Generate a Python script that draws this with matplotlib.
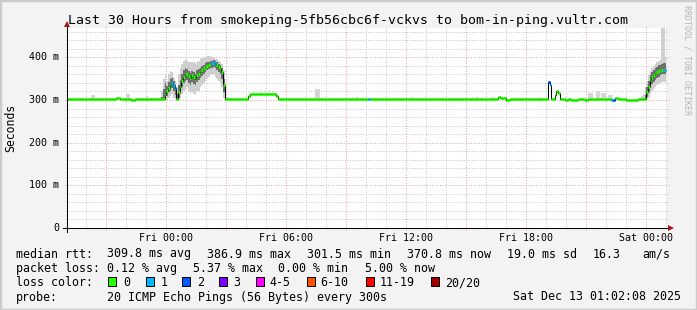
import numpy as np
import matplotlib
matplotlib.use("Agg")
import matplotlib.pyplot as plt
from matplotlib.collections import LineCollection
from matplotlib.patches import Rectangle

# ---------------- data ----------------
title = "Last 30 Hours from smokeping-5fb56cbc6f-vckvs to bom-in-ping.vultr.com"
x_tick_hours = [0, 6, 12, 18, 24]           # hours relative to Fri 00:00
x_tick_labels = ["Fri 00:00", "Fri 06:00", "Fri 12:00", "Fri 18:00", "Sat 00:00"]
y_tick_values = [0, 100, 200, 300, 400]
y_tick_labels = ["0", "100 m", "200 m", "300 m", "400 m"]
first_step_hour = -5.0                       # Thu 19:00, 5-minute steps
view_start_hour = -4.964                     # Thu 19:02:08
view_end_hour = 25.036                       # Sat 01:02:08
y_top = 468.7

# median rtt (ms), one value per 5 minute step, 12 per row (= 1 hour)
median_ms = [
    303, 303, 303, 303, 303, 303, 303, 303, 303, 303, 303, 303,
    303, 303, 303, 303, 303, 303, 303, 303, 303, 303, 303, 303,
    303, 303, 303, 303, 303, 303, 305, 305, 303, 303, 303, 303,
    303, 303, 303, 300, 300, 303, 303, 303, 303, 303, 303, 303,
    303, 303, 303, 303, 303, 303, 303, 303, 303, 303, 303, 312,
    321, 328, 334, 340, 335, 327, 303, 318, 330, 345, 355, 361,
    362, 356, 352, 358, 354, 350, 358, 362, 366, 370, 374, 378,
    380, 383, 384, 386, 387, 385, 382, 378, 376, 366, 334, 303,
    302, 302, 302, 302, 302, 302, 302, 302, 302, 302, 302, 302,
    302, 309, 315, 315, 315, 315, 315, 315, 315, 315, 315, 315,
    315, 315, 315, 315, 315, 315, 309, 302, 302, 302, 302, 302,
    302, 302, 302, 302, 302, 302, 302, 302, 302, 302, 302, 302,
    302, 302, 302, 302, 302, 302, 302, 302, 302, 302, 302, 302,
    302, 302, 302, 302, 302, 302, 302, 302, 302, 302, 302, 302,
    302, 302, 302, 302, 302, 302, 302, 302, 302, 302, 302, 302,
    302, 302, 302, 302, 302, 302, 302, 302, 302, 302, 302, 302,
    302, 302, 302, 302, 302, 302, 302, 302, 302, 302, 302, 302,
    302, 302, 302, 302, 302, 302, 302, 302, 302, 302, 302, 302,
    302, 302, 302, 302, 302, 302, 302, 302, 302, 302, 302, 302,
    302, 302, 302, 302, 302, 302, 302, 302, 302, 302, 302, 302,
    302, 302, 302, 302, 302, 302, 302, 302, 302, 302, 302, 302,
    302, 302, 302, 302, 302, 302, 302, 306, 305, 305, 305, 305,
    300, 300, 302, 302, 302, 302, 302, 302, 302, 302, 302, 302,
    302, 302, 302, 302, 302, 302, 302, 302, 302, 302, 302, 302,
    302, 343, 336, 302, 303, 312, 322, 316, 303, 302, 302, 301,
    301, 302, 302, 301, 301, 301, 301, 302, 302, 302, 302, 301,
    301, 302, 302, 302, 302, 302, 302, 302, 302, 302, 302, 302,
    302, 302, 302, 301, 301, 305, 305, 303, 302, 302, 302, 302,
    301, 301, 301, 301, 301, 301, 301, 302, 302, 303, 303, 303,
    318, 330, 346, 353, 358, 363, 366, 369, 371, 371, 371, 371,
]

# steps with lost pings (index of step, number of lost pings out of 20)
loss_step = [63, 64, 65, 87, 88, 89, 181, 289, 290, 327, 328, 358, 359]
loss_pings = [1, 1, 1, 1, 1, 1, 1, 2, 1, 1, 2, 1, 1]

# smoke (spread of the 20 pings) for the first hump, starting at step 56
hump_start = 56
hump_outer_hi = [306, 320, 350, 362, 345, 360, 368, 365, 355, 345, 330, 360, 375, 385,
                 392, 395, 392, 390, 388, 390, 388, 385, 390, 392, 395, 398, 400, 400,
                 402, 402, 402, 400, 398, 396, 395, 392, 390, 385, 370, 330, 306]
hump_outer_lo = [301, 301, 301, 302, 303, 305, 310, 315, 305, 302, 300, 301, 305, 315,
                 320, 325, 330, 320, 315, 318, 315, 312, 320, 322, 330, 335, 340, 345,
                 350, 355, 360, 362, 360, 355, 350, 345, 340, 330, 305, 301, 301]
hump_inner_hi = [303, 308, 325, 340, 332, 342, 350, 352, 345, 335, 315, 335, 348, 362,
                 370, 374, 372, 368, 364, 368, 366, 362, 370, 372, 376, 380, 383, 386,
                 388, 390, 391, 392, 393, 391, 388, 385, 383, 375, 350, 310, 303]
hump_inner_lo = [301, 301, 302, 305, 310, 318, 322, 328, 320, 312, 301, 305, 315, 330,
                 340, 345, 348, 340, 335, 342, 338, 335, 342, 348, 352, 356, 362, 366,
                 370, 372, 374, 376, 377, 374, 370, 365, 360, 350, 318, 301, 301]

# smoke for the final rise, starting at step 344
rise_start = 344
rise_outer_hi = [305, 310, 315, 330, 345, 358, 368, 375, 380, 385, 390, 392, 395, 468, 468, 400]
rise_outer_lo = [301, 300, 300, 301, 302, 305, 315, 320, 325, 330, 335, 338, 340, 342, 342, 342]
rise_inner_hi = [303, 304, 305, 312, 330, 345, 358, 365, 370, 375, 378, 381, 383, 385, 386, 386]
rise_inner_lo = [301, 301, 301, 302, 308, 318, 332, 338, 342, 348, 352, 355, 358, 360, 360, 360]

# small isolated smoke blips above the flat line (step index, top of smoke in ms)
blip_step = [15, 16, 30, 36, 37, 48, 53, 149, 150, 151, 174, 198, 207, 246, 255, 256,
             260, 284, 313, 314, 315, 318, 319, 321, 322, 323, 325, 326, 327, 332]
blip_top = [311, 311, 306, 315, 313, 310, 306, 326, 326, 326, 306, 305, 306, 308, 306, 306,
            310, 306, 317, 317, 317, 322, 322, 317, 317, 317, 312, 312, 312, 306]

loss_colors = ["#26ff00", "#00b8ff", "#0059ff", "#7e00ff", "#ff00ff", "#ff5500", "#ff0000", "#a10000"]
loss_labels = ["0", "1", "2", "3", "4-5", "6-10", "11-19", "20/20"]

legend_rows = [
    [(16, "median rtt:"), (107, "309.8 ms avg"), (207, "386.9 ms max"), (307, "301.5 ms min"),
     (407, "370.8 ms now"), (507, "19.0 ms sd"), (593, "16.3"), (642, "am/s")],
    [(16, "packet loss:"), (107, "0.12 % avg"), (193, "5.37 % max"), (278, "0.00 % min"),
     (365, "5.00 % now")],
    [(16, "loss color:")],
    [(16, "probe:"), (107, "20 ICMP Echo Pings (56 Bytes) every 300s"),
     (513, "Sat Dec 13 01:02:08 2025")],
]

# ---------------- layout ----------------
W, H, DPI = 697, 310, 100
MONO = ["DejaVu Sans Mono"]
fig = plt.figure(figsize=(W / DPI, H / DPI), dpi=DPI, facecolor="#f3f3f3")
PL, PR, PT, PB = 67, 667, 28, 228
ax = fig.add_axes([PL / W, (H - PB) / H, (PR - PL) / W, (PB - PT) / H])
ax.set_facecolor("white")
ax.set_xlim(view_start_hour, view_end_hour)
ax.set_ylim(0, y_top)
for s in ax.spines.values():
    s.set_visible(False)
ax.set_xticks([])
ax.set_yticks([])

pw, ph = PR - PL, PB - PT

# grid
minor_c = "#c6c6c6"
major_c = "#e8a0a0"
dash = (0, (1, 1.6))
for h in range(-4, 26):
    if h % 3 == 0:
        continue
    ax.axvline(h, ymin=-1 / ph, ymax=1 + 1 / ph, color=minor_c, lw=0.72,
               linestyle=dash, clip_on=False, zorder=1)
for v in range(20, 470, 20):
    if v % 100 == 0:
        continue
    ax.axhline(v, xmin=-1 / pw, xmax=1 + 1 / pw, color=minor_c, lw=0.72,
               linestyle=dash, clip_on=False, zorder=1)
for h in range(-3, 26, 3):
    ax.axvline(h, ymin=-2 / ph, ymax=1 + 2 / ph, color=major_c, lw=0.72,
               linestyle=dash, clip_on=False, zorder=1)
for v in y_tick_values[1:]:
    ax.axhline(v, xmin=-2 / pw, xmax=1 + 2 / pw, color=major_c, lw=0.72,
               linestyle=dash, clip_on=False, zorder=1)

# time edges of the steps
n = len(median_ms)
edges = first_step_hour + np.arange(n + 1) / 12.0
med = np.array(median_ms, dtype=float)

def smoke(start, hi, lo, color, z):
    hi = np.array(hi, float)
    lo = np.array(lo, float)
    e = edges[start:start + len(hi) + 1]
    ax.stairs(hi, e, baseline=lo, fill=True, color=color, lw=0, zorder=z)

smoke(hump_start, hump_outer_hi, hump_outer_lo, "#cfcfcf", 2)
smoke(hump_start, hump_inner_hi, hump_inner_lo, "#6e6e6e", 2.1)
smoke(rise_start, rise_outer_hi, rise_outer_lo, "#cfcfcf", 2)
smoke(rise_start, rise_inner_hi, rise_inner_lo, "#6e6e6e", 2.1)
for i, top in zip(blip_step, blip_top):
    ax.stairs([top], edges[i:i + 2], baseline=median_ms[i], fill=True,
              color="#d6d6d6", lw=0, zorder=2)

# median line (black) and loss-coloured pieces
ax.stairs(med, edges, baseline=None, color="#000000", lw=0.75, zorder=3)
loss = np.zeros(n, dtype=int)
for i, p in zip(loss_step, loss_pings):
    loss[i] = p

def loss_col(p):
    if p == 0:
        return loss_colors[0]
    if p <= 3:
        return loss_colors[p]
    if p <= 5:
        return loss_colors[4]
    if p <= 10:
        return loss_colors[5]
    if p <= 19:
        return loss_colors[6]
    return loss_colors[7]

segs, cols = [], []
for i in range(n):
    if np.isfinite(med[i]):
        segs.append([(edges[i], med[i]), (edges[i + 1], med[i])])
        cols.append(loss_col(loss[i]))
ax.add_collection(LineCollection(segs, colors=cols, linewidths=2.2,
                                 capstyle="butt", zorder=4))

# axes lines and arrows
ax.plot([-4 / pw, 1 + 1 / pw], [0, 0], transform=ax.transAxes, color="black",
        lw=0.75, clip_on=False, zorder=6)
ax.plot([0, 0], [-4 / ph, 1 + 1 / ph], transform=ax.transAxes, color="black",
        lw=0.75, clip_on=False, zorder=6)
ax.plot([1 + 4 / pw], [0], transform=ax.transAxes, marker=">", ms=4.5,
        color="#a01818", clip_on=False, zorder=7, mew=0)
ax.plot([0], [1 + 4 / ph], transform=ax.transAxes, marker="^", ms=4.5,
        color="#a01818", clip_on=False, zorder=7, mew=0)

# tick labels
for h, lab in zip(x_tick_hours, x_tick_labels):
    ax.text(h, -12.7 / ph, lab, transform=ax.get_xaxis_transform(), ha="center",
            va="baseline", fontsize=7.2, family=MONO, color="black")
for v, lab in zip(y_tick_values, y_tick_labels):
    ax.annotate(lab, xy=(0, v), xycoords=ax.get_yaxis_transform(),
                xytext=(-8, -3), textcoords="offset pixels", ha="right",
                va="baseline", fontsize=7.2, family=MONO, color="black")

# title, axis label, watermark
fig.text(W / 2 / W, 1 - 24 / H, title, ha="center", va="baseline",
         fontsize=9.55, family=MONO, color="black")
fig.text(11 / W, 1 - 128 / H, "Seconds", rotation=90, ha="center", va="center",
         fontsize=8.3, family=MONO, color="black")
fig.text(687 / W, 1 - 60 / H, "RRDTOOL / TOBI OETIKER", rotation=270, ha="center",
         va="center", fontsize=6.0, family=MONO, color="#b4b4b4")

# legend
row_base = [257.5, 272.3, 286.3, 300.5]
for yb, row in zip(row_base, legend_rows):
    for xp, txt in row:
        fig.text(xp / W, 1 - yb / H, txt, ha="left", va="baseline",
                 fontsize=8.35, family=MONO, color="black")
box_x = [108, 146, 182, 219, 256, 307, 366, 431]
lab_x = [123, 161, 197, 233, 269, 320, 380, 445]
for bx, lx, c, lab in zip(box_x, lab_x, loss_colors, loss_labels):
    fig.add_artist(Rectangle((bx / W, 1 - 285.5 / H), 8 / W, 8.5 / H,
                             transform=fig.transFigure, facecolor=c,
                             edgecolor="black", lw=0.7))
    fig.text(lx / W, 1 - row_base[2] / H, lab, ha="left", va="baseline",
             fontsize=8.35, family=MONO, color="black")

# outer frame
fig.add_artist(Rectangle((0, 0), 1, 1, transform=fig.transFigure, fill=False,
                         edgecolor="#cbcbcb", lw=2.5))

fig.savefig("out.png", dpi=DPI, facecolor=fig.get_facecolor())
